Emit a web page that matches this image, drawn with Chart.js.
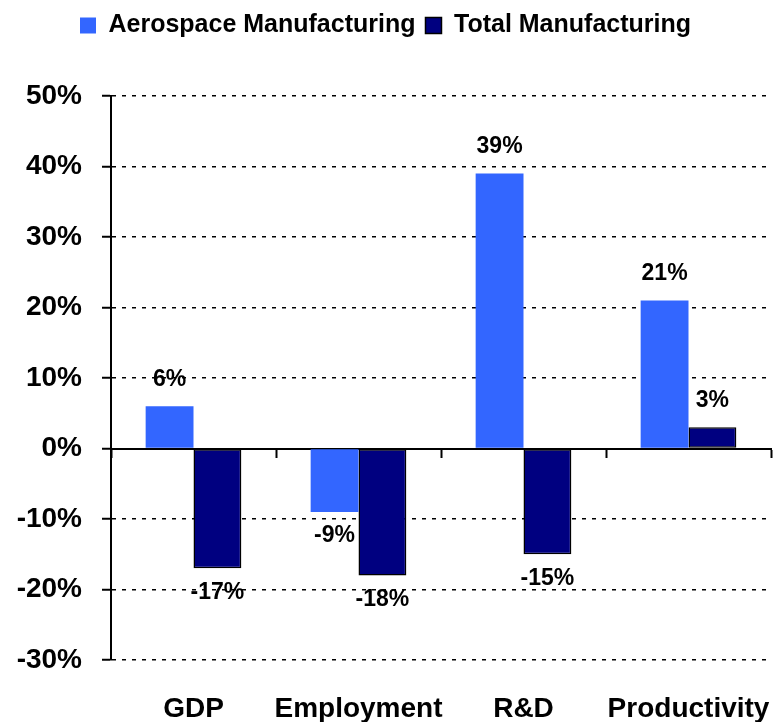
<!DOCTYPE html>
<html>
<head>
<meta charset="utf-8">
<script src="https://cdn.jsdelivr.net/npm/chart.js@4.4.0/dist/chart.umd.min.js"></script>
<style>
  html, body { margin: 0; padding: 0; background: #fff; }
  #wrap { width: 774px; height: 722px; }
</style>
</head>
<body>
<div id="wrap"><canvas id="growthChart"></canvas></div>
<script>
const categories = ['GDP', 'Employment', 'R&D', 'Productivity'];
const aerospaceValues = [6, -9, 39, 21];
const totalValues = [-17, -18, -15, 3];
const seriesNames = ['Aerospace Manufacturing', 'Total Manufacturing'];

const FONT = '"Liberation Sans", Arial, sans-serif';

// value labels above positive bars, below negative ones
const barLabels = {
    id: 'barLabels',
    afterDatasetsDraw(chart) {
        const ctx = chart.ctx;
        ctx.save();
        ctx.font = 'bold 23px ' + FONT;
        ctx.fillStyle = '#000';
        ctx.textAlign = 'center';
        ctx.textBaseline = 'middle';
        chart.data.datasets.forEach(function(ds, i) {
            const meta = chart.getDatasetMeta(i);
            meta.data.forEach(function(bar, j) {
                const v = ds.data[j];
                const y = v >= 0 ? bar.y - 27 : bar.y + 24;
                ctx.fillText(v + '%', bar.x, y);
            });
        });
        ctx.restore();
    }
};

// extra room between the legend and the plot
const legendGap = {
    id: 'legendGap',
    beforeInit(chart) {
        const fit = chart.legend.fit;
        chart.legend.fit = function() {
            fit.bind(chart.legend)();
            this.height += 48;
        };
    }
};

const ctx = document.getElementById('growthChart').getContext('2d');
new Chart(ctx, {
    type: 'bar',
    data: {
        labels: categories,
        datasets: [{
            label: seriesNames[0],
            data: aerospaceValues,
            backgroundColor: '#3366FF',
            borderWidth: 0,
            xAxisID: 'x'
        }, {
            label: seriesNames[1],
            data: totalValues,
            backgroundColor: '#000080',
            borderColor: '#000000',
            borderWidth: 1.5,
            borderSkipped: false,
            xAxisID: 'x'
        }]
    },
    options: {
        responsive: true,
        maintainAspectRatio: false,
        animation: false,
        categoryPercentage: 0.58,
        barPercentage: 1.0,
        layout: { padding: { top: 3, right: 3, left: 0, bottom: 0 } },
        plugins: {
            tooltip: { enabled: false },
            legend: {
                position: 'top',
                labels: {
                    boxWidth: 16,
                    boxHeight: 16,
                    padding: 10,
                    color: '#000',
                    font: { family: FONT, size: 25, weight: 'bold' }
                }
            }
        },
        scales: {
            x: {
                position: 'bottom',
                grid: { display: false },
                border: { display: false },
                ticks: {
                    color: '#000',
                    padding: 24,
                    maxRotation: 0,
                    minRotation: 0,
                    autoSkip: false,
                    font: { family: FONT, size: 28, weight: 'bold' }
                },
                afterFit(scale) {
                    scale.height = 62;
                    scale.paddingLeft = 0;
                    scale.paddingRight = 0;
                }
            },
            zero: {
                type: 'category',
                axis: 'x',
                position: { y: 0 },
                offset: true,
                grid: {
                    display: true,
                    drawOnChartArea: false,
                    drawTicks: true,
                    tickLength: 8,
                    tickColor: '#000',
                    tickWidth: 2,
                    offset: true
                },
                border: { display: true, color: '#000', width: 2 },
                ticks: { display: false }
            },
            y: {
                min: -30,
                max: 50,
                grid: {
                    color: function(c) { return c.tick && c.tick.value === 0 ? 'rgba(0,0,0,0)' : '#000'; },
                    lineWidth: 1.5,
                    tickLength: 9,
                    tickColor: '#000',
                    tickWidth: 2,
                    tickBorderDash: []
                },
                border: { display: true, color: '#000', width: 2, dash: [4, 6] },
                ticks: {
                    stepSize: 10,
                    color: '#000',
                    padding: 20,
                    font: { family: FONT, size: 28, weight: 'bold' },
                    callback: function(v) { return v + '%'; }
                },
                afterFit(scale) { scale.width = 111; }
            }
        }
    },
    plugins: [barLabels, legendGap]
});
</script>
</body>
</html>
